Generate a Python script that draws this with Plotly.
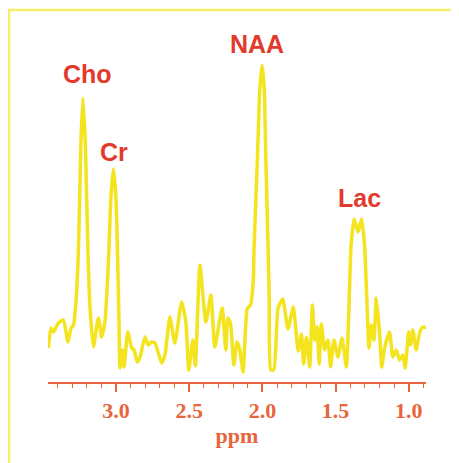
import plotly.graph_objects as go

# Chemical shift (ppm) and signal intensity (arbitrary units)
ppm = [3.462, 3.445, 3.428, 3.394, 3.359, 3.329, 3.307, 3.291,
       3.273, 3.256, 3.241, 3.227, 3.209, 3.193, 3.177, 3.155,
       3.121, 3.098, 3.075, 3.058, 3.048, 3.035, 3.018, 3.001,
       2.991, 2.980, 2.973, 2.957, 2.945, 2.920, 2.893, 2.877,
       2.855, 2.836, 2.802, 2.780, 2.757, 2.734, 2.711, 2.688,
       2.666, 2.632, 2.598, 2.552, 2.523, 2.503, 2.475, 2.458,
       2.427, 2.386, 2.352, 2.325, 2.275, 2.250, 2.236, 2.218,
       2.195, 2.173, 2.154, 2.132, 2.104, 2.081, 2.062, 2.057,
       2.033, 2.018, 2.002, 1.987, 1.977, 1.961, 1.953, 1.943,
       1.922, 1.893, 1.861, 1.825, 1.789, 1.755, 1.733, 1.718,
       1.699, 1.677, 1.658, 1.643, 1.627, 1.612, 1.597, 1.574,
       1.552, 1.534, 1.511, 1.484, 1.456, 1.426, 1.407, 1.394,
       1.373, 1.347, 1.322, 1.302, 1.286, 1.272, 1.256, 1.238,
       1.222, 1.199, 1.184, 1.165, 1.131, 1.109, 1.085, 1.063,
       1.040, 1.024, 1.001, 0.988, 0.972, 0.949, 0.926, 0.904,
       0.881]
intensity = [32, 52, 48, 57, 60, 38, 52, 55,
             80, 135, 233, 282, 233, 133, 70, 33,
             62, 43, 60, 100, 133, 183, 211, 183,
             133, 60, 12, 30, 13, 48, 32, 30,
             18, 23, 43, 35, 38, 37, 27, 17,
             25, 63, 37, 78, 58, 10, 40, 14,
             115, 58, 85, 33, 72, 30, 62, 57,
             15, 38, 30, 8, 71, 75, 100, 132,
             225, 290, 315, 290, 225, 132, 80, 10,
             10, 72, 81, 51, 73, 29, 46, 16,
             43, 13, 75, 40, 53, 16, 56, 30,
             40, 13, 40, 23, 42, 13, 80, 135,
             161, 148, 161, 135, 80, 32, 55, 40,
             82, 47, 13, 32, 48, 23, 30, 20,
             25, 12, 48, 35, 50, 30, 47, 53,
             52]

peak_labels = ["Cho", "Cr", "NAA", "Lac"]
label_ppm = [3.198, 3.014, 2.038, 1.339]
label_int = [306, 228, 336, 182]

tick_vals = [3.0, 2.5, 2.0, 1.5, 1.0]
tick_text = ["3.0", "2.5", "2.0", "1.5", "1.0"]

ORANGE = "#e8643c"
RED = "#e23a2c"
YELLOW = "#f4e41e"

fig = go.Figure()
fig.add_trace(go.Scatter(
    x=ppm, y=intensity, mode="lines",
    line=dict(color=YELLOW, width=3.5, shape="spline", smoothing=0.5),
    hoverinfo="skip", showlegend=False,
))

for t, xv, yv in zip(peak_labels, label_ppm, label_int):
    fig.add_annotation(x=xv, y=yv, text=t, showarrow=False,
                       xanchor="center", yanchor="middle",
                       font=dict(family="Liberation Sans, Arial, sans-serif",
                                 size=25, color=RED, weight="bold"))

# outer frame (open on right and bottom, as in the cropped original)
fig.add_shape(type="rect", xref="paper", yref="paper",
              x0=-0.103, x1=1.15, y0=-0.3, y1=1.0877,
              line=dict(color="#f7ee6a", width=2.5), layer="below")

fig.update_layout(
    width=459, height=463,
    margin=dict(l=40, r=41, t=32, b=89),
    paper_bgcolor="white", plot_bgcolor="white",
    xaxis=dict(
        range=[3.465, 0.882],
        tickvals=tick_vals, ticktext=tick_text,
        ticks="outside", ticklen=8, tickwidth=1.5, tickcolor=ORANGE,
        showline=True, linecolor=ORANGE, linewidth=2,
        showgrid=False, zeroline=False,
        tickfont=dict(family="Liberation Serif, Times New Roman, serif",
                      size=22, color=ORANGE, weight="bold"),
        minor=dict(dtick=0.1, tick0=1.0, ticks="outside", ticklen=4,
                   tickwidth=1.2, tickcolor=ORANGE, showgrid=False),
        title=dict(text="ppm", standoff=2,
                   font=dict(family="Liberation Serif, Times New Roman, serif",
                             size=22, color=ORANGE, weight="bold")),
    ),
    yaxis=dict(range=[-2, 340], visible=False, showgrid=False, zeroline=False),
)

fig.write_html("out.html")
